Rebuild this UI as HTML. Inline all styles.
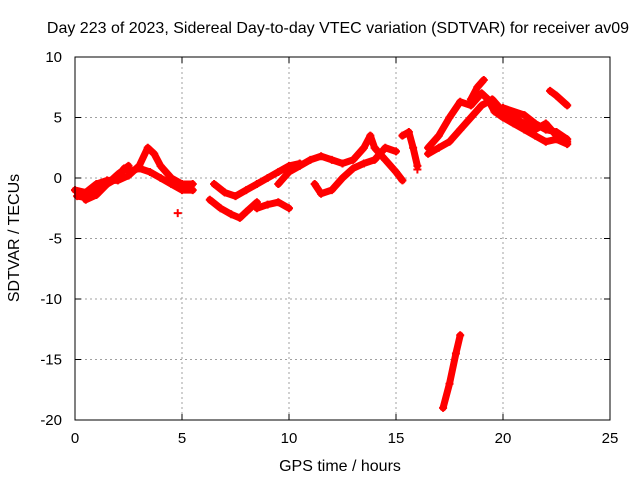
<!DOCTYPE html>
<html><head><meta charset="utf-8"><style>
body{margin:0;background:#fff}
svg{display:block;font-family:"Liberation Sans",sans-serif}
</style></head><body>
<svg id="chart" width="640" height="480">
<rect width="640" height="480" fill="#fff"/>
<g id="grid"></g>
<g id="tracks"></g>
<rect x="75" y="57" width="535" height="363" fill="none" stroke="#000" stroke-width="1"/>
<g id="axes"></g>
<text x="338" y="33" text-anchor="middle" font-size="16">Day 223 of 2023, Sidereal Day-to-day VTEC variation (SDTVAR) for receiver av09</text>
<text x="340" y="471" text-anchor="middle" font-size="16">GPS time / hours</text>
<text transform="translate(19,238) rotate(-90)" text-anchor="middle" font-size="16">SDTVAR / TECUs</text>
</svg>
<script>
const xTicks=[0,5,10,15,20,25];
const yTicks=[10,5,0,-5,-10,-15,-20];
const track1=[[0.1,-1.5],[0.5,-1.6],[1,-1],[1.5,-0.5],[2,0],[2.3,0.8]];
const track2=[[0,-1],[0.5,-1.2],[1,-0.5],[1.5,-0.2],[2,-0.2],[2.5,0.2],[3,1],[3.4,2.5],[3.7,2],[4,1],[4.5,0],[5,-0.5],[5.5,-0.5]];
const track3=[[0.5,-1.8],[1,-1.4],[1.5,-0.5],[2,0.3],[2.5,1]];
const track4=[[2.5,0.5],[3,0.8],[3.5,0.5],[4,0],[4.5,-0.5],[5,-1],[5.5,-1]];
const track5=[[6.3,-1.8],[6.8,-2.5],[7.3,-3],[7.7,-3.3],[8,-2.8],[8.5,-2]];
const track6=[[6.5,-0.5],[7,-1.2],[7.5,-1.5],[8,-1],[8.5,-0.5],[9,0],[9.5,0.5],[10,1],[10.5,1.2]];
const track7=[[8.5,-2.5],[9,-2.2],[9.5,-2],[10,-2.5]];
const track8=[[9.5,-0.5],[10,0.5],[10.5,1],[11,1.5],[11.5,1.8],[12,1.5],[12.5,1.2],[13,1.5],[13.5,2.5],[13.8,3.5],[14,2.5],[14.5,1.5],[15,0.5],[15.3,-0.2]];
const track9=[[11.2,-0.5],[11.5,-1.3],[12,-1],[12.5,0],[13,0.8],[13.5,1.2],[14,1.5],[14.5,2.5],[15,2.2]];
const track10=[[15.3,3.5],[15.6,3.8],[15.8,2.5],[16,1]];
const track11=[[16.5,2],[17,2.5],[17.5,3],[18,4],[18.5,5],[19,6],[19.5,6.5],[20,5.5],[20.5,5],[21,4.5],[21.5,4],[22,4.5],[22.5,3.5],[23,3]];
const track12=[[16.5,2.5],[17,3.5],[17.5,5],[18,6.3],[18.5,6],[19,7],[19.3,6.5],[19.6,5.5],[20,5],[20.5,4.5],[21,4],[21.5,3.5],[22,3],[22.5,3.2],[23,2.8]];
const track13=[[18.5,6.5],[18.8,7.5],[19.1,8.1]];
const track14=[[22.2,7.2],[22.5,6.8],[23,6]];
const track15=[[17.2,-19],[17.5,-17],[17.8,-14.5],[18,-13]];
const track16=[[20,5.8],[21,5.2],[21.5,4.5],[22,4],[22.5,3.8],[23,3.2]];
const singles=[[4.8,-2.9],[16,0.7]];
const tracks=[track1,track2,track3,track4,track5,track6,track7,track8,track9,track10,track11,track12,track13,track14,track15,track16];
const NS="http://www.w3.org/2000/svg";
const X=v=>75+v*(535/25), Y=v=>57+(10-v)*(363/30);
function mk(t,a,p){const e=document.createElementNS(NS,t);for(const k in a)e.setAttribute(k,a[k]);p.appendChild(e);return e;}
const grid=document.getElementById('grid'),axes=document.getElementById('axes'),tg=document.getElementById('tracks');
xTicks.forEach(t=>{const x=X(t);
 if(t>0&&t<25){const g=mk('line',{x1:x,x2:x,y1:57,y2:420,stroke:'#a0a0a0','stroke-dasharray':'2,3'},grid);
 
 }
 mk('line',{x1:x,x2:x,y1:420,y2:414,stroke:'#000'},axes);mk('line',{x1:x,x2:x,y1:57,y2:63,stroke:'#000'},axes);
 const l=mk('text',{x:x,y:443,'text-anchor':'middle','font-size':15},axes);l.textContent=t;
 
 });
yTicks.forEach(t=>{const y=Y(t);
 if(t<10&&t>-20){const g=mk('line',{x1:75,x2:610,y1:y,y2:y,stroke:'#a0a0a0','stroke-dasharray':'2,3'},grid);
 
 }
 mk('line',{x1:75,x2:81,y1:y,y2:y,stroke:'#000'},axes);mk('line',{x1:610,x2:604,y1:y,y2:y,stroke:'#000'},axes);
 const l=mk('text',{x:62,y:y+5,'text-anchor':'end','font-size':15},axes);l.textContent=t;
 
 });
function plus(x,y){mk('path',{d:`M${x-4},${y}h8M${x},${y-4}v8`,stroke:'#f00','stroke-width':2},tg);}
tracks.forEach(tr=>{const p=mk('polyline',{points:tr.map(d=>X(d[0])+','+Y(d[1])).join(' '),fill:'none',stroke:'#f00','stroke-width':7,'stroke-linejoin':'round','stroke-linecap':'round'},tg);
 
 
 tr.forEach(d=>plus(X(d[0]),Y(d[1])));});
singles.forEach(d=>plus(X(d[0]),Y(d[1])));
</script>
</body></html>
